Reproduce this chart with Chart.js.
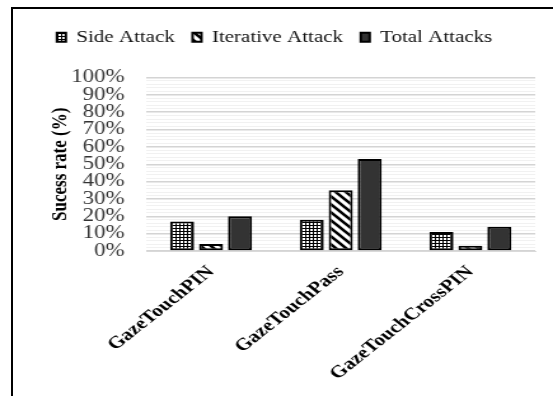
<!DOCTYPE html>
<html>
<head>
<meta charset="utf-8">
<script src="https://cdn.jsdelivr.net/npm/chart.js@4"></script>
<style>
    html, body { margin: 0; padding: 0; background: #fff; overflow: hidden; }
    #frame {
        position: absolute; left: 11px; top: 7px; right: 0; bottom: 0;
        border-left: 2px solid #000; border-top: 2px solid #000;
    }
    /* le graphique d'origine est étiré horizontalement */
    #wrap {
        position: absolute; left: 0; top: 0; width: 435px; height: 396px;
        transform: scaleX(1.2713); transform-origin: 0 0;
    }
</style>
</head>
<body>
<div id="frame"></div>
<div id="wrap"><canvas id="chart" width="435" height="396"></canvas></div>
<script>
const categories = ['GazeTouchPIN', 'GazeTouchPass', 'GazeTouchCrossPIN'];
const seriesNames = ['Side Attack', 'Iterative Attack', 'Total Attacks'];
const sideAttack = [17, 18, 11];
const iterativeAttack = [4, 35, 3];
const totalAttacks = [20, 53, 14];

// --- motifs de remplissage ---
function motifPoints() {
    const c = document.createElement('canvas');
    c.width = 3; c.height = 3;
    const g = c.getContext('2d');
    g.fillStyle = '#000';
    g.fillRect(0, 0, 3, 3);
    g.fillStyle = '#fff';
    g.fillRect(1, 1, 2, 2);
    return g.createPattern(c, 'repeat');
}

function motifHachures() {
    const c = document.createElement('canvas');
    c.width = 8; c.height = 8;
    const g = c.getContext('2d');
    g.fillStyle = '#fff';
    g.fillRect(0, 0, 8, 8);
    g.strokeStyle = '#000';
    g.lineWidth = 2.6;
    g.beginPath();
    g.moveTo(-2, -2); g.lineTo(10, 10);
    g.moveTo(-2, 6); g.lineTo(2, 10);
    g.moveTo(6, -2); g.lineTo(10, 2);
    g.stroke();
    return g.createPattern(c, 'repeat');
}

// --- espace supplémentaire sous la légende ---
const margeLegende = {
    id: 'margeLegende',
    beforeInit(chart) {
        const fitOrig = chart.legend.fit;
        chart.legend.fit = function () {
            fitOrig.bind(chart.legend)();
            this.height += 22;
        };
    }
};

const ctx = document.getElementById('chart').getContext('2d');

new Chart(ctx, {
    type: 'bar',
    data: {
        labels: categories,
        datasets: [
            { label: seriesNames[0], data: sideAttack, backgroundColor: motifPoints() },
            { label: seriesNames[1], data: iterativeAttack, backgroundColor: motifHachures() },
            { label: seriesNames[2], data: totalAttacks, backgroundColor: '#333333' }
        ].map(d => Object.assign(d, {
            borderColor: '#000',
            borderWidth: 2,
            borderSkipped: false,
            categoryPercentage: 0.67,
            barPercentage: 0.83
        }))
    },
    plugins: [margeLegende],
    options: {
        responsive: false,
        animation: false,
        layout: { padding: { top: 15, left: 11, right: 14, bottom: 9 } },
        plugins: {
            legend: {
                position: 'top',
                labels: {
                    boxWidth: 7,
                    boxHeight: 9,
                    padding: 14,
                    color: '#111',
                    font: { family: 'Liberation Serif', size: 16.5 }
                }
            },
            tooltip: { enabled: false }
        },
        scales: {
            x: {
                grid: { display: false },
                border: { color: '#d9d9d9', width: 1 },
                // les étiquettes inclinées débordent à gauche, on garde la zone du graphique fixe
                afterFit: scale => {
                    scale.paddingLeft = 0;
                    scale.paddingRight = 0;
                },
                ticks: {
                    minRotation: 45,
                    maxRotation: 45,
                    color: '#000',
                    font: { family: 'Liberation Serif', size: 17, weight: 'bold' }
                }
            },
            y: {
                min: 0,
                max: 100,
                border: { display: false },
                afterFit: scale => { scale.width = 104; },
                grid: {
                    drawTicks: false,
                    color: c => c.tick.value % 10 === 0 ? '#d4d4d4' : '#f1f1f1',
                    lineWidth: c => c.tick.value % 10 === 0 ? 1.5 : 1
                },
                ticks: {
                    stepSize: 2,
                    autoSkip: false,
                    padding: 17,
                    color: '#333',
                    font: { family: 'Liberation Serif', size: 18 },
                    callback: v => v % 10 === 0 ? v + '%' : ''
                },
                title: {
                    display: true,
                    text: 'Sucess rate (%)',
                    color: '#000',
                    padding: { top: 26, bottom: 1 },
                    font: { family: 'Liberation Serif', size: 17, weight: 'bold' }
                }
            }
        }
    }
});
</script>
</body>
</html>
